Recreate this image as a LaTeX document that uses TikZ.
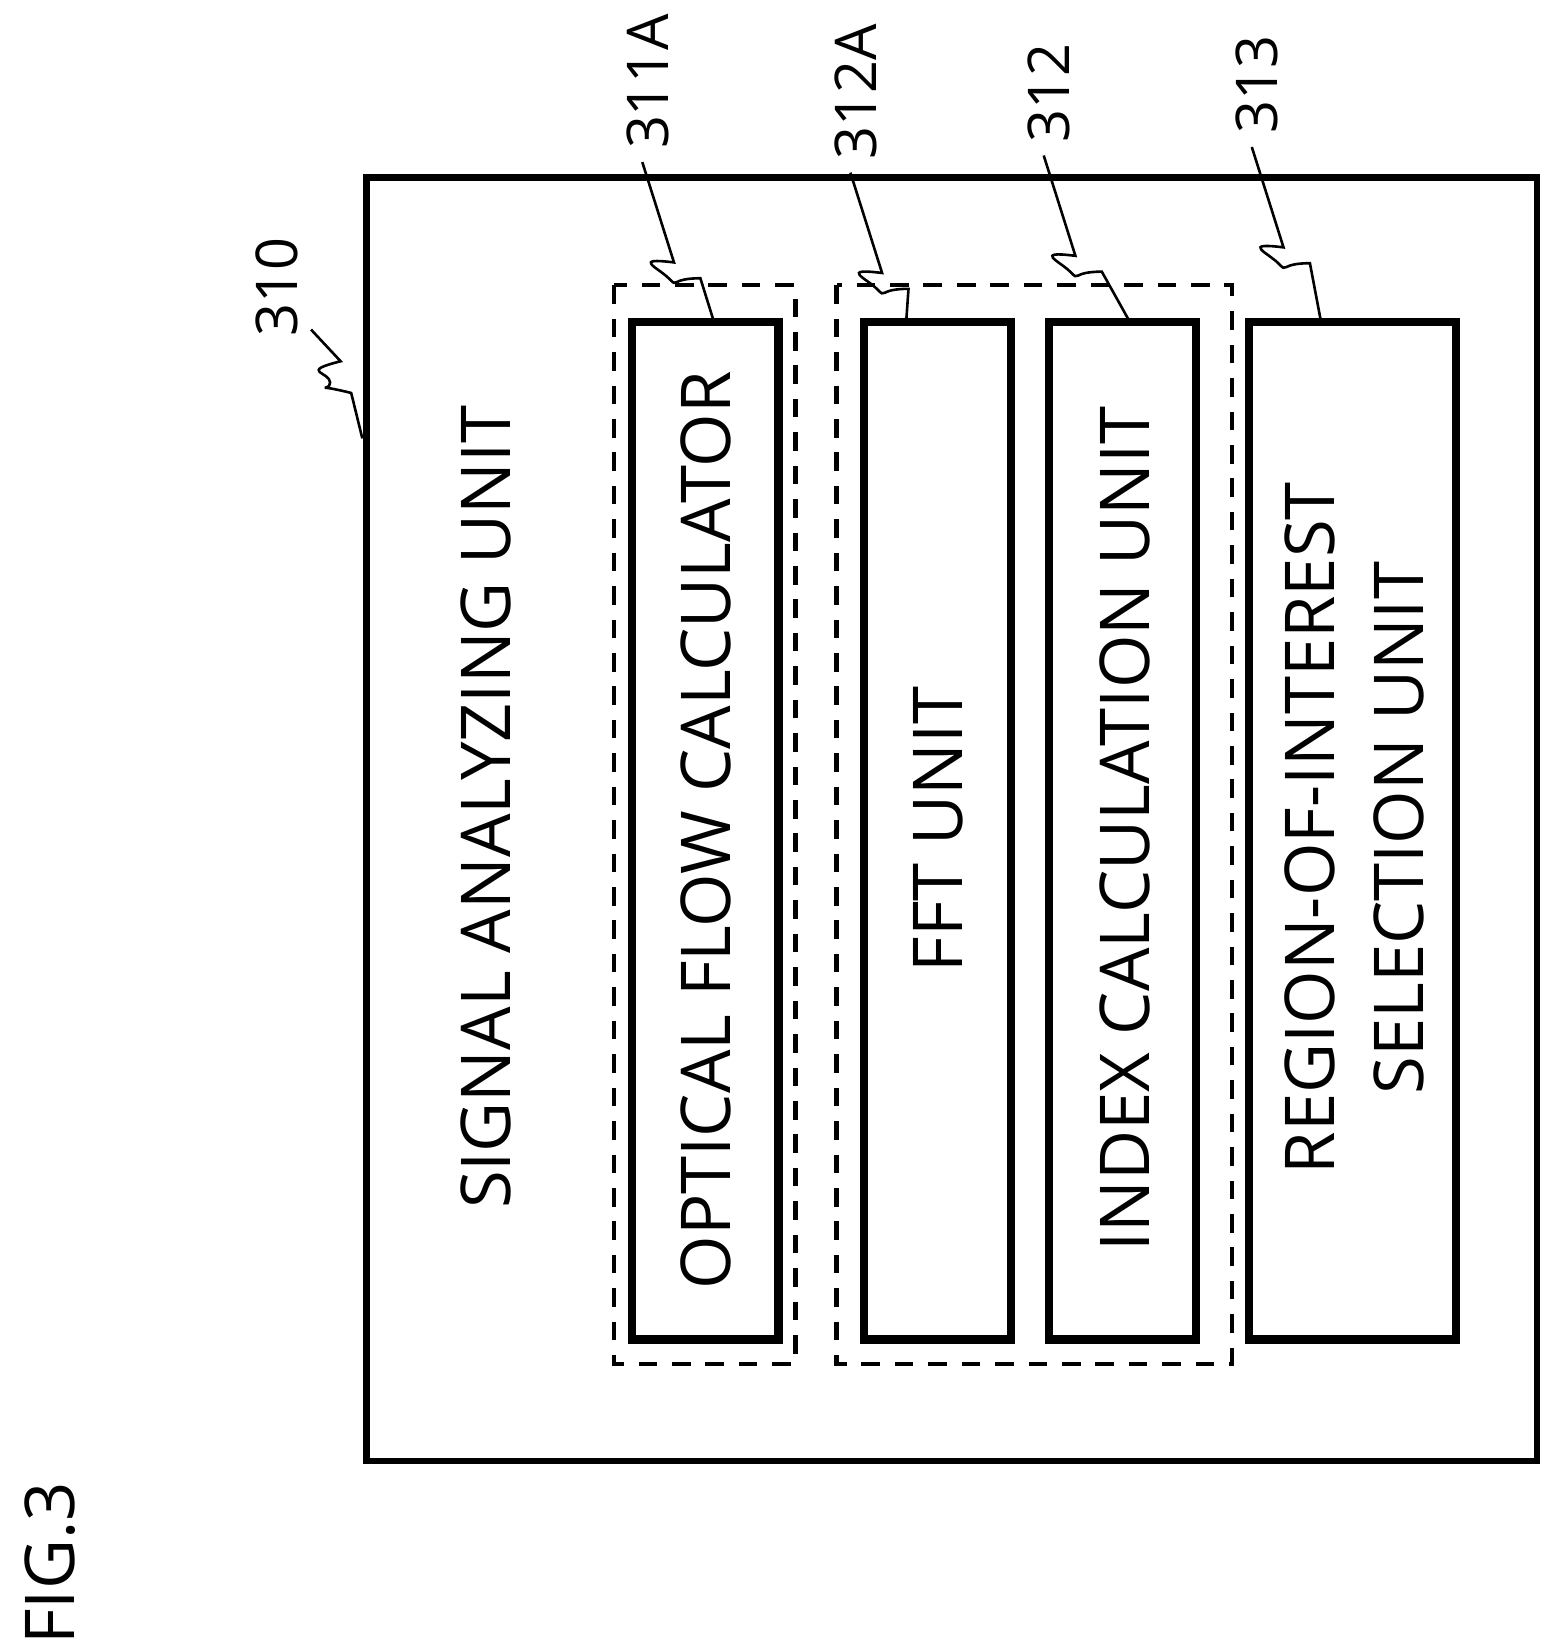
\documentclass[tikz,border=0pt]{standalone}
\usepackage{fontspec}
\setmainfont{Open Sans}
\begin{document}
\begin{tikzpicture}[x=0.01cm,y=-0.01cm,
  box/.style={draw,line width=2.2pt},
  dbox/.style={draw,line width=1.2pt,dash pattern=on 5pt off 4pt},
  txt/.style={rotate=90,font=\fontsize{18.5}{24}\selectfont,align=center},
  lab/.style={rotate=90,font=\fontsize{15.5}{18}\selectfont},
  lead/.style={line width=0.7pt}]
\useasboundingbox (0,0) rectangle (1470,1561);
\draw[box,line width=1.8pt] (347,168) rectangle (1455,1383);
\draw[dbox] (581,270) rectangle (753,1291);
\draw[dbox] (792,270) rectangle (1166,1291);
\draw[box] (598,305) rectangle (737,1268);
\draw[box] (818,305) rectangle (957,1268);
\draw[box] (993,305) rectangle (1132,1268);
\draw[box] (1182,305) rectangle (1378,1268);
\node[txt] (sau) at (460,764) {SIGNAL ANALYZING UNIT};
\node[txt] (ofc) at (668,786) {OPTICAL FLOW CALCULATOR};
\node[txt] (fft) at (888,785) {FFT UNIT};
\node[txt] (idx) at (1065,785) {INDEX CALCULATION UNIT};
\node[txt] (roi) at (1282,784) {REGION-OF-INTEREST\\SELECTION UNIT};
\node[txt] (fig) at (47,1480) {FIG.3};
\node[lab] (l310) at (262,272) {310};
\node[lab] (l311) at (613,77) {311A};
\node[lab] (l312a) at (810,87) {312A};
\node[lab] (l312) at (993,88) {312};
\node[lab] (l313) at (1190,80) {313};
\foreach \s/\e in {l310/343,l311/675,l312a/858,l312/1068,l313/1250}{}
\coordinate (e310) at (343,415);
\coordinate (e311) at (675,302);
\coordinate (e312a) at (858,302);
\coordinate (e312) at (1068,302);
\coordinate (e313) at (1250,302);
\draw[lead] (l310.south) ++(0,40) -- ++(28,30) .. controls +(-40,10) and +(0,-10) .. ++(-10,20) .. controls +(0,10) and +(-40,-10) .. ++(20,10) -- (e310);
\foreach \n in {311,312a,312,313}{
\draw[lead] (l\n.west) ++(-5,0) -- ++(30,95) .. controls +(-40,-5) and +(-10,-10) .. ++(-5,15) .. controls +(10,10) and +(-30,0) .. ++(30,0) -- (e\n);
}
\end{tikzpicture}
\end{document}
